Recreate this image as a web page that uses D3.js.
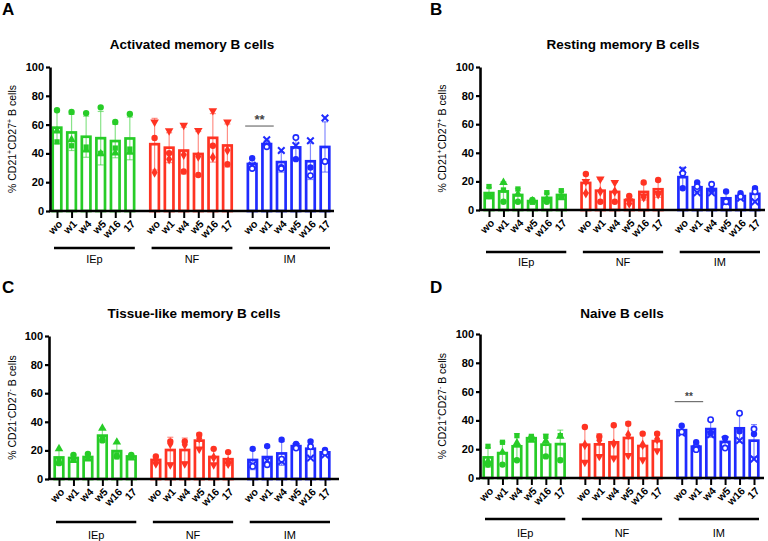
<!DOCTYPE html>
<html><head><meta charset="utf-8">
<script src="https://cdn.jsdelivr.net/npm/d3@7"></script>
<style>body{margin:0;background:#fff}svg{display:block;font-family:"Liberation Sans",Arial,sans-serif}</style>
</head><body><svg id="c" width="768" height="541"></svg>
<script>
// ---------- data ----------
const categories = ["wo","w1","w4","w5","w16","17"];
const groups = ["IEp","NF","IM"];
const groupColors = ["#27cc27","#ff3322","#1f2bff"];
// markers per patient within each group
const groupShapes = [["circle","triangle","square"],["triangleDown","circle","diamond"],["times","circle","openCircle"]];

// Panel A: Activated memory B cells (3 patients per group, 6 time points)
const actIEp = [[70,68.8,68,72,61.8,67.4],[55.6,49.5,42.3,39.7,40.2,40.7],[48,45.3,44.4,40,43.7,43]];
const actNF  = [[61.8,55.7,59.5,56,69.7,61.8],[50.7,40.2,27.4,25,45.3,32.5],[26.7,36,39,37.8,37.4,42.2]];
const actIM  = [[31.8,49.5,42,45.5,48.8,64.6],[36.7,45.3,30.4,36,30.2,34.4],[29.5,44.6,29.5,51,24.6,34.4]];
// Panel B: Resting memory B cells
const restIEp = [[9.8,5.8,5.8,7,5.8,9.5],[9.3,19.2,11,6.3,7.5,8.5],[16.4,14,14.7,5.4,12.1,13.5]];
const restNF  = [[19.9,21.7,19.2,6.5,9.8,11.5],[25.2,5.8,5.8,9.8,19.2,21],[11.7,13,12.9,4.5,8.9,11]];
const restIM  = [[28,12.1,12,5.8,8.2,5.8],[15.2,19.2,14,12.9,11.7,15.2],[25.7,16.4,18,5.8,9.3,12.9]];
// Panel C: Tissue-like memory B cells
const tissIEp = [[11.1,16.9,17.6,27,15.8,16.9],[21.1,13,13.9,35.5,25.8,14.6],[13,14.2,14.6,28.5,16.9,15.8]];
const tissNF  = [[10.7,10,10.7,21,10,10.4],[15.8,26.2,26.2,31,21.1,18.8],[13.5,24.6,23.9,28.5,15.1,12.3]];
const tissIM  = [[10,13,12.3,22.7,14.6,16.9],[21.1,23,27.4,24.6,26.2,20.4],[8.8,10,13.9,21.6,22.7,18.6]];
// Panel D: Naive B cells
const naivIEp = [[9.3,9.3,12.3,27.8,15,12.3],[11.6,17.8,24.3,26.2,25.5,28.9],[22,24.8,29.4,28.9,28.9,29.4]];
const naivNF  = [[10.9,15,13.9,15.7,12.7,19],[35.4,28.9,36.6,37.7,30.8,30.8],[23,26.2,23.8,30,23.1,27]];
const naivIM  = [[31.3,20.8,30.1,26.6,26,13.2],[36.3,24.8,31.3,27.8,32.5,30.6],[32,19.7,40.5,20.8,45,34]];

const yTicks = [0,20,40,60,80,100];
const sigA = [{group:"IM", from:"wo", to:"w1", value:59, label:"**"}];
const sigD = [{group:"IM", from:"wo", to:"w1", value:53, label:"**"}];

// ---------- layout ----------
const panels = [
  {letter:"A", title:"Activated memory B cells", sup:["+","+"], data:[actIEp,actNF,actIM], sig:sigA, sigFont:13,
   lx:2, ly:15, axisX:50, xEnd:334, yTop:67, yBot:211, t0:57, t1:325, gLineY:248, gLabY:263, titleX:192, titleY:49, ylabX:16},
  {letter:"B", title:"Resting memory B cells", sup:["+","+"], data:[restIEp,restNF,restIM], sig:[],
   lx:430, ly:15, axisX:480, xEnd:765, yTop:67, yBot:210, t0:489, t1:755, gLineY:252, gLabY:266, titleX:623, titleY:49, ylabX:446},
  {letter:"C", title:"Tissue-like memory B cells", sup:["-","-"], data:[tissIEp,tissNF,tissIM], sig:[],
   lx:2, ly:293, axisX:49, xEnd:339, yTop:336, yBot:479, t0:59, t1:325, gLineY:522, gLabY:539, titleX:194, titleY:318, ylabX:16},
  {letter:"D", title:"Naive B cells", sup:["+","-"], data:[naivIEp,naivNF,naivIM], sig:sigD, sigFont:10,
   lx:430, ly:293, axisX:480, xEnd:764, yTop:334, yBot:478, t0:488, t1:754, gLineY:519, gLabY:537, titleX:622, titleY:318, ylabX:446}
];

const svg = d3.select("#c");
const GAP = 6.7;

function symbolPath(shape){
  const map = {circle:d3.symbolCircle, openCircle:d3.symbolCircle, triangle:d3.symbolTriangle,
    triangleDown:d3.symbolTriangle, square:d3.symbolSquare, diamond:d3.symbolDiamond,
    times:(d3.symbolTimes||d3.symbolX||d3.symbolCross)};
  const size = shape==="square"?28:shape==="times"?30:shape==="openCircle"?22:32;
  return d3.symbol().type(map[shape]).size(size)();
}

panels.forEach(p => {
  const g = svg.append("g");
  const y = d3.scaleLinear().domain([0,100]).range([p.yBot,p.yTop]);
  const keys = [];
  groups.forEach(gr => categories.forEach(c => keys.push(gr+"|"+c)));
  const xs = d3.scaleLinear().domain([0, 2*GAP+5]).range([p.t0,p.t1]);
  const x = d3.scaleOrdinal().domain(keys).range(keys.map((k,i)=>xs(Math.floor(i/6)*GAP + i%6)));

  // letter + title
  g.append("text").attr("x",p.lx).attr("y",p.ly).attr("font-size",17).attr("font-weight","bold").text(p.letter);
  g.append("text").attr("x",p.titleX).attr("y",p.titleY).attr("text-anchor","middle")
    .attr("font-size",13.5).attr("font-weight","bold").text(p.title);

  // bars
  p.data.forEach((pts,gi) => {
    const col = groupColors[gi];
    categories.forEach((c,ci) => {
      const vals = pts.map(a=>a[ci]);
      const m = d3.mean(vals), sd = d3.deviation(vals);
      const cx = x(groups[gi]+"|"+c);
      g.append("rect").attr("x",cx-4.3).attr("width",8.6).attr("y",y(m)).attr("height",y(0)-y(m))
        .attr("fill","#fff").attr("stroke",col).attr("stroke-width",2.7);
      const eb = g.append("g").attr("stroke",col).attr("stroke-opacity",0.55).attr("stroke-width",1.2);
      eb.append("line").attr("x1",cx).attr("x2",cx).attr("y1",y(Math.max(0,m-sd))).attr("y2",y(m+sd));
      eb.append("line").attr("x1",cx-3).attr("x2",cx+3).attr("y1",y(m+sd)).attr("y2",y(m+sd));
      eb.append("line").attr("x1",cx-3).attr("x2",cx+3).attr("y1",y(Math.max(0,m-sd))).attr("y2",y(Math.max(0,m-sd)));
      vals.forEach((v,pi) => {
        const sh = groupShapes[gi][pi];
        const s = g.append("path").attr("d",symbolPath(sh))
          .attr("transform",`translate(${cx},${y(v)})`+(sh==="triangleDown"?" rotate(180)":""));
        if (sh==="openCircle") s.attr("fill","#fff").attr("stroke",col).attr("stroke-width",1.6);
        else if (sh==="times") s.attr("fill","none").attr("stroke",col).attr("stroke-width",2);
        else s.attr("fill",col);
      });
    });
  });

  // y axis
  const ya = g.append("g").attr("transform",`translate(${p.axisX},0)`)
    .call(d3.axisLeft(y).tickValues(yTicks).tickSize(4).tickSizeOuter(0).tickPadding(2));
  ya.select(".domain").attr("stroke","#000").attr("stroke-width",2.6);
  ya.selectAll(".tick line").attr("stroke","#000").attr("stroke-width",2.2);
  ya.selectAll(".tick text").attr("font-size",11).attr("font-weight","bold").attr("fill","#000")
    .attr("font-family","'Liberation Sans',Arial,sans-serif");

  // x axis
  const xa = g.append("g").attr("transform",`translate(0,${p.yBot})`)
    .call(d3.axisBottom(x).tickSize(7).tickSizeOuter(0).tickFormat(k=>k.split("|")[1]));
  xa.select(".domain").remove();
  xa.append("line").attr("x1",p.axisX-1).attr("x2",p.xEnd).attr("y1",0).attr("y2",0)
    .attr("stroke","#000").attr("stroke-width",2.6);
  xa.selectAll(".tick line").attr("stroke","#000").attr("stroke-width",2);
  xa.selectAll(".tick text").attr("font-size",10.5).attr("font-weight","bold").attr("fill","#000")
    .attr("font-family","'Liberation Sans',Arial,sans-serif")
    .attr("text-anchor","end").attr("x",0).attr("y",0).attr("dy","0.35em")
    .attr("transform","translate(3,11) rotate(-45)");

  // group lines + labels
  groups.forEach((gr,gi) => {
    const a = x(gr+"|"+categories[0]) - 3, b = x(gr+"|"+categories[5]) + 5;
    g.append("line").attr("x1",a).attr("x2",b).attr("y1",p.gLineY).attr("y2",p.gLineY)
      .attr("stroke","#000").attr("stroke-width",2.6);
    g.append("text").attr("x",(a+b)/2).attr("y",p.gLabY).attr("text-anchor","middle")
      .attr("font-size",11).text(gr);
  });

  // y label
  const yl = g.append("text").attr("transform",`translate(${p.ylabX},${(p.yTop+p.yBot)/2}) rotate(-90)`)
    .attr("text-anchor","middle").attr("font-size",10.5);
  yl.append("tspan").text("% CD21");
  yl.append("tspan").attr("dy",-4).attr("font-size",7).text(p.sup[0]);
  yl.append("tspan").attr("dy",4).text("CD27");
  yl.append("tspan").attr("dy",-4).attr("font-size",7).text(p.sup[1]);
  yl.append("tspan").attr("dy",4).text(" B cells");

  // significance
  p.sig.forEach(s => {
    const a = x(s.group+"|"+s.from) - 7, b = x(s.group+"|"+s.to) + 7;
    g.append("line").attr("x1",a).attr("x2",b).attr("y1",y(s.value)).attr("y2",y(s.value))
      .attr("stroke","#555").attr("stroke-width",1);
    g.append("text").attr("x",(a+b)/2).attr("y",y(s.value)-2).attr("text-anchor","middle")
      .attr("font-size",p.sigFont).attr("font-weight","bold").attr("fill","#444").text(s.label);
  });
});
</script></body></html>
